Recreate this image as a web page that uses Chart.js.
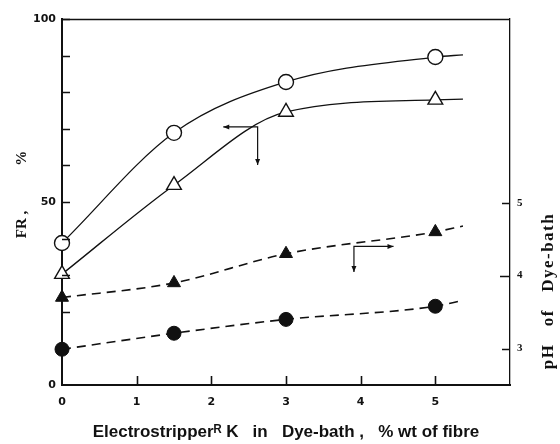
<!DOCTYPE html>
<html>
<head>
<meta charset="utf-8">
<title>FR and pH vs Electrostripper</title>
<script src="https://cdn.jsdelivr.net/npm/chart.js@4.4.1/dist/chart.umd.min.js"></script>
<style>
  html, body { margin: 0; padding: 0; background: #fff; }
  #wrap { width: 560px; height: 444px; position: relative; }
</style>
</head>
<body>
<div id="wrap"><canvas id="fr"></canvas></div>
<script>
// % of Electrostripper in dye-bath (last x is where each drawn curve ends)
const dose = [0, 1.5, 3, 5, 5.37];

// FR, % (left axis)
const frOpenCircle = [38.8, 68.9, 82.8, 89.6, 90.2];
const frOpenTriangle = [30.3, 54.6, 74.6, 77.9, 78.1];

// pH of dye-bath (right axis)
const phFilledTriangle = [3.70, 3.90, 4.30, 4.60, 4.68];
const phFilledCircle = [2.99, 3.21, 3.40, 3.58, 3.66];

const leftLabels = [0, 50, 100];
const rightTicks = [3, 4, 5];

// axis pointer arrows: corner, end of horizontal leg, end of vertical leg
const arrowFR = { x: 2.62, y: 70.5, toX: 2.16, toY: 60.1, axis: 'y' };
const arrowPH = { x: 3.91, y: 4.40, toX: 4.44, toY: 4.05, axis: 'y1' };

const ink = '#111';

function pts(ys) {
  return dose.map((x, i) => ({ x: x, y: ys[i] }));
}
function radii(r) {
  return dose.map((x, i) => i === dose.length - 1 ? 0 : r);
}

const inwardTicks = {
  id: 'inwardTicks',
  afterDatasetsDraw(chart) {
    const { ctx, chartArea: a, scales } = chart;
    ctx.save();
    ctx.strokeStyle = ink;
    ctx.lineWidth = 1.6;
    ctx.beginPath();
    scales.y.ticks.forEach(t => {
      if (t.value === 0) return;
      const py = Math.round(scales.y.getPixelForValue(t.value)) + 0.5;
      ctx.moveTo(a.left, py); ctx.lineTo(a.left + 8, py);
    });
    scales.x.ticks.forEach(t => {
      if (t.value === 0 || t.value === 6) return;
      const px = Math.round(scales.x.getPixelForValue(t.value)) + 0.5;
      ctx.moveTo(px, a.bottom); ctx.lineTo(px, a.bottom - 9);
    });
    scales.y1.ticks.forEach(t => {
      const py = Math.round(scales.y1.getPixelForValue(t.value)) + 0.5;
      ctx.moveTo(a.right, py); ctx.lineTo(a.right - (t.value === 4 ? 10 : 8), py);
    });
    ctx.stroke();
    // top frame line
    ctx.lineWidth = 1.4;
    ctx.beginPath();
    ctx.moveTo(a.left, a.top + 0.5); ctx.lineTo(a.right, a.top + 0.5);
    ctx.stroke();
    ctx.restore();
  }
};

const arrows = {
  id: 'arrows',
  afterDatasetsDraw(chart) {
    const { ctx, scales } = chart;
    ctx.save();
    ctx.strokeStyle = ink;
    ctx.fillStyle = ink;
    ctx.lineWidth = 1.2;
    [arrowFR, arrowPH].forEach(ar => {
      const ys = scales[ar.axis];
      const cx = scales.x.getPixelForValue(ar.x);
      const cy = ys.getPixelForValue(ar.y);
      const hx = scales.x.getPixelForValue(ar.toX);
      const vy = ys.getPixelForValue(ar.toY);
      ctx.beginPath();
      ctx.moveTo(hx, cy); ctx.lineTo(cx, cy); ctx.lineTo(cx, vy);
      ctx.stroke();
      const dir = Math.sign(hx - cx);
      ctx.beginPath();
      ctx.moveTo(hx, cy); ctx.lineTo(hx - dir * 6, cy - 2.5); ctx.lineTo(hx - dir * 6, cy + 2.5);
      ctx.closePath(); ctx.fill();
      ctx.beginPath();
      ctx.moveTo(cx, vy); ctx.lineTo(cx - 2.5, vy - 6); ctx.lineTo(cx + 2.5, vy - 6);
      ctx.closePath(); ctx.fill();
    });
    ctx.restore();
  }
};

const rightTitle = {
  id: 'rightTitle',
  afterDraw(chart) {
    const { ctx, chartArea: a } = chart;
    ctx.save();
    ctx.translate(a.right + 39, 291);
    ctx.rotate(-Math.PI / 2);
    ctx.fillStyle = ink;
    ctx.font = 'bold 17px "Liberation Serif"';
    ctx.letterSpacing = '1.5px';
    ctx.textAlign = 'center';
    ctx.textBaseline = 'middle';
    ctx.fillText('pH   of   Dye-bath', 0, 0);
    ctx.restore();
  }
};

const ctx = document.getElementById('fr').getContext('2d');
new Chart(ctx, {
  type: 'line',
  data: {
    datasets: [
      {
        label: 'FR (open circle)', data: pts(frOpenCircle), yAxisID: 'y',
        borderColor: ink, borderWidth: 1.3, cubicInterpolationMode: 'monotone',
        pointStyle: 'circle', pointRadius: radii(7.5), pointBackgroundColor: '#fff',
        pointBorderColor: ink, pointBorderWidth: 1.4, clip: false
      },
      {
        label: 'FR (open triangle)', data: pts(frOpenTriangle), yAxisID: 'y',
        borderColor: ink, borderWidth: 1.3, cubicInterpolationMode: 'monotone',
        pointStyle: 'triangle', pointRadius: radii(8.5), pointBackgroundColor: '#fff',
        pointBorderColor: ink, pointBorderWidth: 1.4, clip: false
      },
      {
        label: 'pH (filled triangle)', data: pts(phFilledTriangle), yAxisID: 'y1',
        borderColor: ink, borderWidth: 1.6, borderDash: [9, 6], cubicInterpolationMode: 'monotone',
        pointStyle: 'triangle', pointRadius: radii(7.5), pointBackgroundColor: ink,
        pointBorderColor: ink, pointBorderWidth: 1, clip: false
      },
      {
        label: 'pH (filled circle)', data: pts(phFilledCircle), yAxisID: 'y1',
        borderColor: ink, borderWidth: 1.6, borderDash: [9, 6], cubicInterpolationMode: 'monotone',
        pointStyle: 'circle', pointRadius: radii(7), pointBackgroundColor: ink,
        pointBorderColor: ink, pointBorderWidth: 1, clip: false
      }
    ]
  },
  options: {
    responsive: true,
    maintainAspectRatio: false,
    animation: false,
    layout: { padding: { top: 19, left: 0, right: 0, bottom: 0 } },
    plugins: { legend: { display: false }, tooltip: { enabled: false } },
    scales: {
      x: {
        type: 'linear', min: 0, max: 6,
        afterFit: s => { s.height = 59; },
        grid: { display: false, drawTicks: false },
        border: { display: true, color: ink, width: 2 },
        ticks: {
          stepSize: 1, padding: 11, color: ink,
          font: { family: 'DejaVu Sans', weight: 'bold', size: 11 },
          callback: v => v === 6 ? '' : v
        },
        title: {
          display: true, color: ink, padding: { top: 0, bottom: 1 },
          text: 'Electrostripperᴿ K   in   Dye-bath ,   % wt of fibre',
          font: { family: 'Liberation Sans', weight: 'bold', size: 17 }
        }
      },
      y: {
        position: 'left', min: 0, max: 100,
        afterFit: s => { s.width = 62; },
        grid: { display: false, drawTicks: false },
        border: { display: true, color: ink, width: 2 },
        ticks: {
          stepSize: 10, padding: 6, color: ink,
          font: { family: 'DejaVu Sans', weight: 'bold', size: 11 },
          callback: v => leftLabels.includes(v) ? v : ''
        },
        title: {
          display: true, color: ink, padding: { top: 13, bottom: 0 },
          text: '    FR ,            %',
          font: { family: 'Liberation Serif', weight: 'bold', size: 15 }
        }
      },
      y1: {
        position: 'right', min: 2.5, max: 7.52,
        afterFit: s => { s.width = 50; },
        afterBuildTicks: s => { s.ticks = rightTicks.map(v => ({ value: v })); },
        grid: { display: false, drawTicks: false },
        border: { display: true, color: ink, width: 1.3 },
        ticks: {
          padding: 7, color: ink,
          font: { family: 'Liberation Serif', weight: 'bold', size: 11 }
        }
      }
    }
  },
  plugins: [inwardTicks, arrows, rightTitle]
});
</script>
</body>
</html>
